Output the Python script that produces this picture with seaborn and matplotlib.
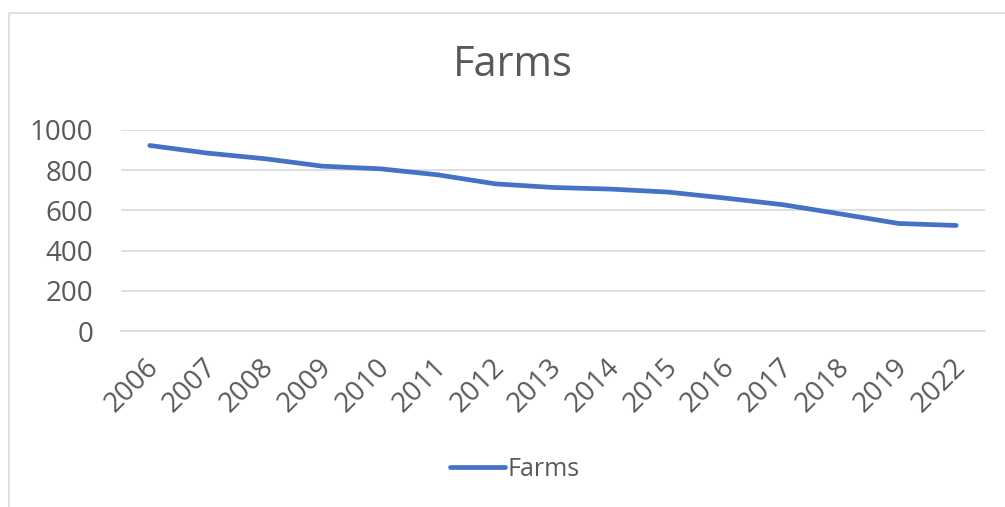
import matplotlib
matplotlib.use("Agg")
import matplotlib.pyplot as plt
import matplotlib.transforms as mtransforms
import seaborn as sns
import pandas as pd
from matplotlib.patches import Rectangle

years = ["2006", "2007", "2008", "2009", "2010", "2011", "2012", "2013",
         "2014", "2015", "2016", "2017", "2018", "2019", "2022"]
farms = [923, 885, 857, 820, 807, 777, 732, 714, 706, 691, 661, 628, 582, 535, 525]
yticks = [0, 200, 400, 600, 800, 1000]

sns.set_theme(style="white")
plt.rcParams['font.family'] = ['Open Sans', 'DejaVu Sans']

df = pd.DataFrame({"Year": years, "Farms": farms})
df["pos"] = range(len(years))

fig = plt.figure(figsize=(10.05, 5.07), dpi=100)
W, H = 1005, 507
ax = fig.add_axes([121 / W, 1 - 331 / H, (985 - 121) / W, (331 - 130) / H])

sns.lineplot(data=df, x="pos", y="Farms", ax=ax, color="#4472C4", linewidth=3.4,
             solid_capstyle="round", label="Farms", legend=False)

ax.set_xlim(-0.5, len(years) - 0.5)
ax.set_ylim(0, 1000)
ax.set_yticks(yticks)
ax.set_yticklabels([str(v) for v in yticks], fontsize=20, color="#595959")
ax.set_xticks(range(len(years)))
ax.set_xticklabels(years, rotation=45, ha="right", rotation_mode="anchor",
                   fontsize=20, color="#595959")
ax.tick_params(axis="y", length=0, pad=20)
ax.tick_params(axis="x", length=0, pad=16)
offset = mtransforms.ScaledTranslation(-5 / 100, 0, fig.dpi_scale_trans)
for lbl in ax.get_xticklabels():
    lbl.set_transform(lbl.get_transform() + offset)
ax.grid(axis="y", color="#d9d9d9", linewidth=1.2)
ax.set_axisbelow(True)
for s in ["top", "right", "left"]:
    ax.spines[s].set_visible(False)
ax.spines["bottom"].set_color("#d9d9d9")
ax.spines["bottom"].set_linewidth(1.2)
ax.set_xlabel("")
ax.set_ylabel("")

fig.text(513 / W, 1 - 65 / H, "Farms", ha="center", va="center", fontsize=30, color="#595959")

handles, labels = ax.get_legend_handles_labels()
fig.legend(handles, labels, loc="center", bbox_to_anchor=(515 / W, 1 - 469 / H),
           frameon=False, fontsize=18, labelcolor="#595959", handlelength=2.2,
           handletextpad=0.1)

fig.patches.append(Rectangle((9 / W, -0.01), 1.0, 1 - 13 / H + 0.01,
                             transform=fig.transFigure, fill=False,
                             edgecolor="#d9d9d9", linewidth=1.2))

fig.savefig("out.png", dpi=100, facecolor="white")
